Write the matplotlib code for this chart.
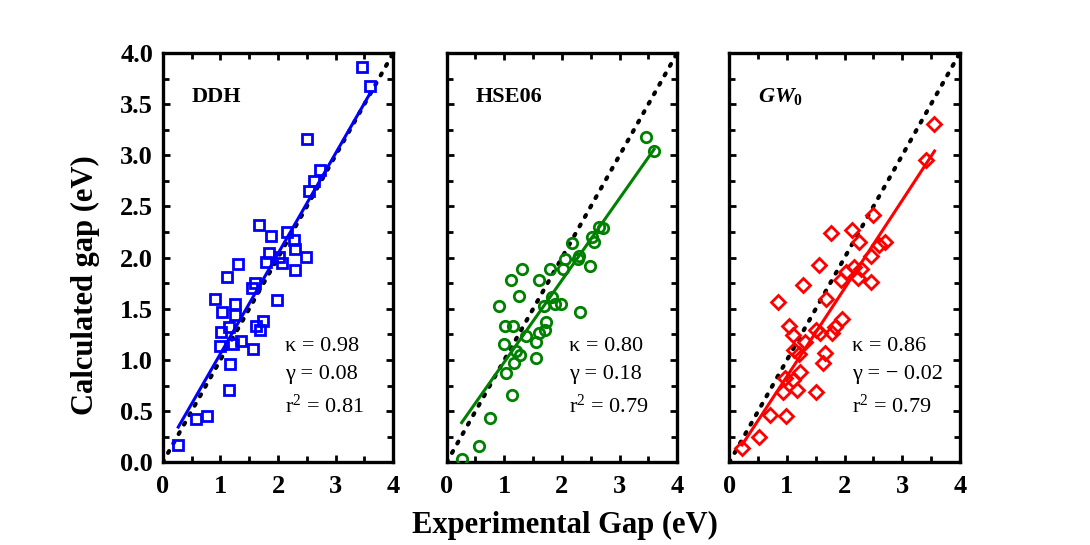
import matplotlib
matplotlib.use('Agg')
import matplotlib.pyplot as plt
from matplotlib.ticker import MultipleLocator, FormatStrFormatter
import numpy as np

plt.rcParams['font.family'] = ['Liberation Serif', 'DejaVu Serif']
plt.rcParams['mathtext.fontset'] = 'custom'
plt.rcParams['mathtext.rm'] = 'Liberation Serif'
plt.rcParams['mathtext.it'] = 'Liberation Serif:italic:bold'
plt.rcParams['mathtext.bf'] = 'Liberation Serif:bold'

# experimental vs calculated gaps (eV)
ddh_exp = [3.45, 3.60, 2.50, 2.72, 2.63, 2.54, 1.67, 1.88, 2.15, 2.28, 2.30, 2.49,
           1.84, 1.80, 2.01, 2.07, 2.30, 1.31, 1.12, 1.60, 1.55, 0.90, 1.99, 1.03,
           1.25, 1.26, 1.74, 1.61, 1.68, 1.01, 1.15, 1.22, 1.36, 0.99, 1.56, 1.17,
           1.15, 0.58, 0.77, 0.27]
ddh_calc = [3.86, 3.68, 3.16, 2.86, 2.75, 2.65, 2.32, 2.21, 2.25, 2.17, 2.08, 2.01,
            2.05, 1.96, 2.01, 1.95, 1.88, 1.94, 1.81, 1.75, 1.70, 1.60, 1.59, 1.47,
            1.55, 1.44, 1.38, 1.33, 1.29, 1.27, 1.32, 1.16, 1.19, 1.14, 1.11, 0.96,
            0.71, 0.42, 0.45, 0.17]

hse_exp = [3.45, 3.60, 2.71, 2.65, 2.52, 2.56, 2.17, 2.30, 2.27, 2.49, 2.05, 2.01,
           1.79, 1.30, 1.12, 1.61, 1.26, 1.83, 1.88, 1.99, 0.90, 1.68, 2.31, 1.73,
           1.70, 1.61, 1.55, 1.37, 1.01, 1.15, 0.99, 1.21, 1.27, 1.17, 1.03, 1.55,
           1.14, 0.76, 0.56, 0.26]
hse_calc = [3.18, 3.04, 2.29, 2.30, 2.20, 2.15, 2.14, 2.02, 1.99, 1.92, 1.99, 1.89,
            1.89, 1.89, 1.78, 1.78, 1.63, 1.62, 1.55, 1.55, 1.53, 1.53, 1.47, 1.37,
            1.29, 1.26, 1.18, 1.23, 1.33, 1.33, 1.16, 1.09, 1.05, 0.97, 0.87, 1.02,
            0.66, 0.43, 0.16, 0.03]

gw_exp = [3.56, 3.42, 2.50, 2.70, 2.60, 2.46, 2.13, 2.25, 1.76, 1.55, 2.17, 2.29,
          2.23, 2.46, 2.02, 1.93, 1.27, 0.84, 1.67, 1.95, 1.83, 1.79, 1.51, 1.57,
          1.04, 1.11, 1.31, 1.12, 1.21, 1.66, 1.63, 1.22, 0.96, 1.11, 1.18, 0.94,
          1.50, 0.70, 0.99, 0.52, 0.22]
gw_calc = [3.31, 2.95, 2.42, 2.15, 2.12, 2.02, 2.27, 2.15, 2.24, 1.93, 1.91, 1.89,
           1.80, 1.76, 1.86, 1.78, 1.73, 1.57, 1.60, 1.40, 1.32, 1.26, 1.29, 1.26,
           1.33, 1.24, 1.18, 1.10, 1.06, 1.07, 0.97, 0.88, 0.82, 0.80, 0.71, 0.69,
           0.69, 0.46, 0.45, 0.25, 0.14]

methods = ['DDH', 'HSE06', r'$GW_{\mathbf{0}}$']
kappa = [0.98, 0.80, 0.86]
gamma = ['0.08', '0.18', '\u2212 0.02']
r2 = ['0.81', '0.79', '0.79']

exp_data = [ddh_exp, hse_exp, gw_exp]
calc_data = [ddh_calc, hse_calc, gw_calc]
colors = ['#0000ff', '#008000', '#ff0000']
markers = ['s', 'o', 'D']
msizes = [7, 7.5, 7.5]

fig = plt.figure(figsize=(10.9, 5.45), dpi=100)
lefts = [0.1493, 0.4098, 0.6691]

for i in range(3):
    ax = fig.add_axes([lefts[i], 0.1517, 0.2115, 0.7511])
    # y = x guide
    ax.plot([0, 4], [0, 4], color='black', linestyle=(0, (0.5, 2.1)),
            linewidth=3.0, dash_capstyle='round', zorder=1)
    # linear fit
    xs = np.array([min(exp_data[i]), max(exp_data[i])])
    g = float(gamma[i].replace('\u2212 ', '-'))
    ax.plot(xs, kappa[i] * xs + g, color=colors[i], linewidth=2.2, zorder=2)
    ax.plot(exp_data[i], calc_data[i], linestyle='none', marker=markers[i],
            markersize=msizes[i], markerfacecolor='none', markeredgecolor=colors[i],
            markeredgewidth=2.0, zorder=3)

    ax.set_xlim(0, 4)
    ax.set_ylim(0, 4)
    ax.xaxis.set_major_locator(MultipleLocator(1))
    ax.xaxis.set_minor_locator(MultipleLocator(0.5))
    ax.yaxis.set_major_locator(MultipleLocator(0.5))
    ax.yaxis.set_minor_locator(MultipleLocator(0.25))
    ax.yaxis.set_major_formatter(FormatStrFormatter('%.1f'))
    ax.tick_params(which='both', direction='in', top=True, right=True, width=2)
    ax.tick_params(which='major', length=5, labelsize=19)
    ax.tick_params(axis='x', which='major', pad=9)
    ax.tick_params(axis='y', which='major', pad=7)
    ax.tick_params(which='minor', length=4)
    for lab in ax.get_xticklabels() + ax.get_yticklabels():
        lab.set_fontweight('bold')
    if i > 0:
        ax.set_yticklabels([])
    for sp in ax.spines.values():
        sp.set_linewidth(2.4)

    ax.text(0.5, 3.57, methods[i], fontsize=16, fontweight='bold', va='center')
    ax.text(2.13, 1.13, '\u03ba = %.2f' % kappa[i], fontsize=16, va='center')
    ax.text(2.13, 0.86, '\u03b3 = ' + gamma[i], fontsize=16, va='center')
    ax.text(2.13, 0.55, 'r$^2$ = ' + r2[i], fontsize=16, va='center')

fig.text(85 / 1090, 1 - 285 / 545, 'Calculated gap (eV)', fontsize=22, fontweight='bold',
         rotation=90, ha='center', va='center')
fig.text(565 / 1090, 1 - 525 / 545, 'Experimental Gap (eV)', fontsize=22, fontweight='bold',
         ha='center', va='center')

fig.savefig('out.png', dpi=100)
